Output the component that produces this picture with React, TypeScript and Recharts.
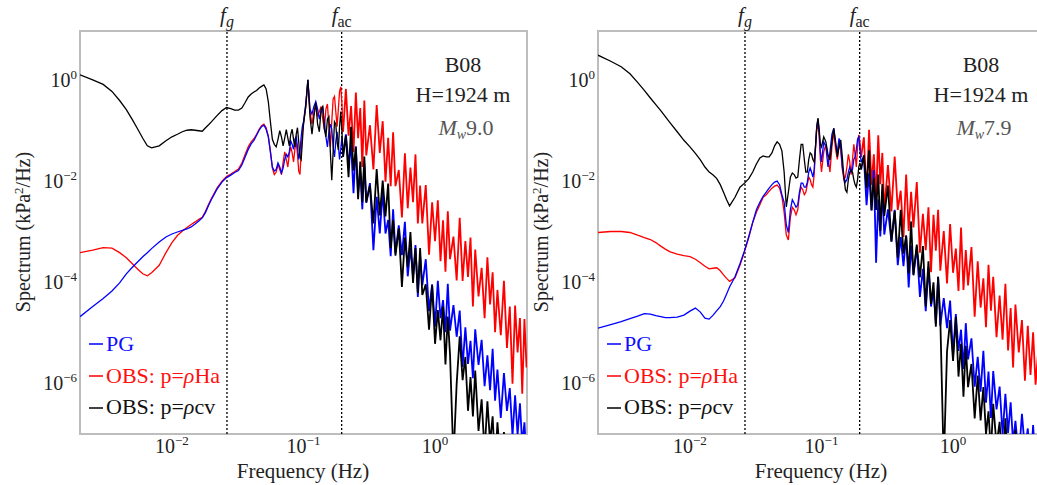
import { LineChart, Line, XAxis, YAxis, ReferenceLine, ReferenceArea } from "recharts";

const SERIF = "'Liberation Serif', 'Times New Roman', serif";

// frequency grid (Hz), shared by both panels
const FREQ = [
  0.002, 0.0025, 0.003, 0.0035, 0.004, 0.0045, 0.005, 0.0055, 0.006, 0.0065,
  0.007, 0.008, 0.009, 0.01, 0.011, 0.012, 0.013, 0.014, 0.015, 0.016,
  0.017, 0.018, 0.019, 0.02, 0.022, 0.024, 0.026, 0.028, 0.03, 0.032,
  0.034, 0.036, 0.038, 0.04, 0.042, 0.044, 0.046, 0.048, 0.05,
  0.052, 0.054, 0.056, 0.058, 0.06, 0.062, 0.064, 0.066, 0.068, 0.07,
  0.072, 0.074, 0.076, 0.078, 0.08, 0.082, 0.084, 0.086, 0.088, 0.09,
  0.092, 0.094, 0.096, 0.098, 0.1,
  0.104, 0.108, 0.112, 0.116, 0.12, 0.124, 0.128, 0.132, 0.136, 0.14,
  0.144, 0.148, 0.152, 0.156, 0.16, 0.164, 0.168, 0.172, 0.176, 0.18,
  0.184, 0.188, 0.192, 0.196, 0.2,
  0.21, 0.22, 0.23, 0.24, 0.25, 0.26, 0.27, 0.28, 0.29, 0.3,
  0.32, 0.34, 0.36, 0.38, 0.4, 0.42, 0.44, 0.46, 0.48, 0.5,
  0.53, 0.56, 0.59, 0.62, 0.65, 0.68, 0.71, 0.74, 0.77, 0.8,
  0.85, 0.9, 0.95, 1.0, 1.05, 1.1, 1.15, 1.2, 1.25, 1.3,
  1.38, 1.46, 1.54, 1.62, 1.7, 1.78, 1.86, 1.94, 2.02,
  2.14, 2.26, 2.38, 2.5, 2.62, 2.74, 2.86, 2.98,
  3.16, 3.34, 3.52, 3.7, 3.88, 4.06, 4.24, 4.42, 4.6, 4.78, 4.96,
];

// log10 of spectrum (kPa^2/Hz) — Mw 9.0 panel
const LEFT_PG = [
  -4.67, -4.47, -4.31, -4.16, -4.0, -3.82, -3.69, -3.58, -3.48, -3.4,
  -3.32, -3.19, -3.09, -3.03, -2.99, -2.96, -2.93, -2.89, -2.83, -2.77,
  -2.71, -2.6, -2.46, -2.34, -2.14, -2.0, -1.91, -1.86, -1.81, -1.77,
  -1.66, -1.5, -1.35, -1.24, -1.17, -1.07, -0.97, -0.9, -0.87,
  -0.95, -1.1, -1.4, -1.7, -1.78, -1.75, -1.62, -1.7, -1.82, -1.72,
  -1.55, -1.45, -1.5, -1.4, -1.18, -1.25, -1.35, -1.15, -1.1, -1.3,
  -1.55, -1.4, -1.1, -0.9, -0.8,
  -0.45, 0.03, -0.55, -0.65, -0.5, -0.4, -0.55, -0.75, -0.6, -0.5,
  -0.8, -1.1, -1.3, -1.0, -0.85, -0.95, -1.3, -1.5, -1.2, -1.0,
  -1.25, -1.55, -1.35, -1.1, -1.45,
  -1.05, -1.63, -1.26, -2.22, -1.29, -2.2, -1.79, -2.54, -1.63, -2.41,
  -2.02, -3.35, -2.29, -3.02, -2.19, -3.02, -2.75, -3.47, -2.54, -3.41,
  -2.86, -3.45, -2.79, -3.87, -3.3, -3.88, -3.25, -4.28, -3.46, -4.05,
  -3.53, -4.56, -4.03, -4.87, -3.96, -4.7, -4.34, -4.98, -4.02, -4.95,
  -4.44, -5.07, -4.55, -5.67, -4.88, -5.61, -5.15, -5.89, -4.92, -5.63,
  -5.13, -6.05, -5.44, -6.13, -5.31, -6.34, -5.72, -6.68, -5.79, -6.54,
  -6.09, -7.04, -6.23, -7.02, -6.39, -7.21, -6.77, -7.49,
];

const LEFT_HA = [
  -3.4, -3.35, -3.3, -3.31, -3.4, -3.5, -3.62, -3.73, -3.82, -3.86,
  -3.8, -3.65, -3.4, -3.2, -3.06, -2.97, -2.9, -2.84, -2.79, -2.74,
  -2.7, -2.58, -2.44, -2.32, -2.12, -1.98, -1.89, -1.84, -1.79, -1.74,
  -1.62, -1.45, -1.3, -1.2, -1.14, -1.05, -0.95, -0.88, -0.85,
  -0.92, -1.08, -1.38, -1.72, -1.85, -1.8, -1.65, -1.75, -1.85, -1.6,
  -1.4, -1.55, -1.7, -1.45, -1.3, -1.42, -1.6, -1.35, -1.2, -1.45,
  -1.78, -1.85, -1.4, -1.0, -0.85,
  -0.5, 0.02, -0.6, -0.85, -0.6, -0.45, -0.7, -0.6, -0.5, -0.75,
  -0.95, -0.55, -0.45, -0.9, -1.3, -0.8, -0.35, -0.3, -0.6, -0.9,
  -0.55, -0.2, -0.11, -0.45, -1.0,
  -0.15, -1.08, -0.49, -1.4, -0.22, -1.13, -0.53, -1.7, -0.38, -1.47,
  -0.87, -1.75, -0.47, -1.42, -0.79, -1.99, -1.12, -2.08, -1.01, -2.08,
  -1.76, -2.7, -1.43, -2.52, -1.71, -2.4, -1.45, -2.82, -2.07, -2.82,
  -2.06, -3.44, -2.4, -3.17, -2.36, -3.57, -2.76, -3.78, -2.58, -3.53,
  -3.08, -3.95, -2.71, -3.96, -3.17, -3.88, -3.1, -4.47, -3.34, -4.27,
  -3.7, -4.7, -3.49, -4.43, -3.79, -4.98, -4.14, -5.04, -3.96, -5.29,
  -4.47, -6.0, -4.45, -5.38, -4.7, -6.2, -4.72, -5.68,
];

const LEFT_CV = [
  0.13, 0.03, -0.06, -0.2, -0.38, -0.56, -0.76, -0.95, -1.13, -1.28,
  -1.32, -1.28, -1.18, -1.1, -1.05, -1.0, -0.97, -0.96, -0.97, -0.98,
  -0.99, -0.92, -0.86, -0.8, -0.68, -0.58, -0.52, -0.54, -0.57, -0.57,
  -0.53, -0.42, -0.31, -0.25, -0.21, -0.18, -0.13, -0.1, -0.07,
  -0.15, -0.4, -0.8, -1.15, -1.25, -1.3, -1.15, -0.98, -1.1, -1.28,
  -1.12, -0.96, -1.12, -1.28, -1.05, -0.95, -1.15, -1.3, -1.05, -0.92,
  -1.2, -1.5, -1.55, -1.2, -0.85,
  -0.5, 0.03, -0.7, -1.05, -0.7, -0.42, -0.85, -1.0, -0.55, -0.5,
  -0.95, -1.1, -0.75, -0.7, -1.4, -1.96, -1.4, -0.8, -0.85, -1.2,
  -1.36, -0.9, -0.6, -1.0, -1.5,
  -1.08, -1.9, -0.9, -1.77, -1.31, -2.34, -1.59, -2.4, -1.49, -2.4,
  -2.07, -2.82, -1.74, -2.66, -1.97, -2.68, -2.03, -3.31, -2.76, -3.46,
  -2.92, -4.08, -3.1, -3.69, -2.99, -4.0, -3.31, -4.2, -3.31, -4.24,
  -4.03, -4.93, -4.05, -5.21, -4.54, -5.14, -4.47, -5.62, -4.67, -5.43,
  -7.5, -6.0, -5.06, -5.93, -5.47, -6.54, -5.87, -6.65, -5.74, -6.94,
  -6.31, -7.37, -6.35, -7.17, -6.65, -7.67, -6.77, -7.65, -6.96, -7.87,
  -7.38, -8.18, -7.19, -7.98, -7.49, -8.49, -7.39, -8.32,
];

// log10 of spectrum — Mw 7.9 panel
const RIGHT_PG = [
  -4.9, -4.83, -4.77, -4.71, -4.66, -4.61, -4.62, -4.65, -4.67, -4.69,
  -4.69, -4.68, -4.64, -4.56, -4.5, -4.58, -4.7, -4.72, -4.64, -4.55,
  -4.47, -4.36, -4.22, -4.08, -3.88, -3.62, -3.36, -3.08, -2.8, -2.55,
  -2.4, -2.28, -2.2, -2.12, -2.05, -2.0, -1.98, -2.05, -2.25,
  -2.4, -2.85, -3.0, -2.55, -2.35, -2.42, -2.5, -2.45, -2.2, -2.02,
  -2.02, -2.1, -2.1, -2.0, -1.8, -1.72, -1.8, -1.9, -1.75, -1.3,
  -0.9, -0.75, -1.0, -1.4, -1.6,
  -1.2, -1.3, -1.7, -1.4, -1.05, -0.93, -1.25, -1.4, -1.13, -1.3,
  -1.7, -1.9, -2.0, -1.95, -1.8, -1.7, -1.8, -1.75, -1.55, -1.5,
  -1.35, -1.15, -1.1, -1.35, -1.6,
  -1.5, -2.46, -1.82, -2.56, -1.76, -3.6, -2.34, -3.08, -2.16, -3.04,
  -2.54, -3.18, -2.55, -3.65, -3.09, -3.67, -3.06, -4.09, -3.26, -3.83,
  -3.28, -4.28, -3.72, -4.56, -3.69, -4.47, -4.14, -4.81, -3.88, -4.85,
  -4.3, -4.9, -4.35, -5.44, -4.62, -5.35, -4.93, -5.71, -4.8, -5.52,
  -5.1, -6.06, -5.47, -6.16, -5.35, -6.38, -5.76, -6.68, -5.75, -6.51,
  -6.06, -7.01, -6.2, -6.98, -6.37, -7.18, -6.74, -7.47, -6.6, -7.32,
  -6.89, -7.81, -6.82, -7.68, -7.23, -7.94, -6.99, -7.74,
];

const RIGHT_HA = [
  -3.0, -2.98, -2.98, -3.0, -3.05, -3.1, -3.14, -3.2, -3.27, -3.33,
  -3.38, -3.43, -3.46, -3.48, -3.53, -3.6, -3.67, -3.72, -3.71, -3.7,
  -3.76, -3.84, -3.91, -3.97, -3.9, -3.65, -3.38, -3.1, -2.8, -2.6,
  -2.45, -2.3, -2.25, -2.18, -2.12, -2.08, -2.06, -2.12, -2.29,
  -2.6, -3.05, -3.15, -2.7, -2.5, -2.55, -2.65, -2.55, -2.25, -2.1,
  -2.15, -2.25, -2.2, -2.05, -1.9, -1.95, -2.05, -2.1, -1.85, -1.35,
  -0.95, -0.85, -1.1, -1.55, -1.8,
  -1.4, -1.25, -1.5, -1.8, -1.3, -1.0, -1.35, -1.55, -1.25, -1.35,
  -1.75, -1.95, -1.9, -1.7, -1.45, -1.6, -1.85, -1.55, -1.25, -1.45,
  -1.7, -1.3, -1.06, -1.2, -1.5,
  -1.11, -2.27, -0.96, -2.05, -1.45, -2.34, -1.07, -2.04, -1.42, -2.57,
  -1.66, -2.58, -1.49, -2.55, -2.17, -3.09, -1.85, -2.97, -2.19, -2.9,
  -2.0, -3.4, -2.63, -3.35, -2.5, -3.79, -2.65, -3.36, -2.55, -3.76,
  -2.97, -4.01, -2.83, -3.8, -3.32, -4.16, -2.9, -4.14, -3.35, -4.05,
  -3.29, -4.67, -3.57, -4.49, -3.91, -4.88, -3.64, -4.55, -3.88, -5.08,
  -4.25, -5.13, -4.02, -5.34, -4.5, -5.68, -4.43, -5.38, -4.74, -5.94,
  -4.85, -5.83, -4.98, -6.02, -5.42, -6.33, -5.14, -6.05,
];

const RIGHT_CV = [
  0.52, 0.4, 0.29, 0.15, -0.02, -0.18, -0.33, -0.46, -0.58, -0.7,
  -0.81, -1.0, -1.17, -1.3, -1.43, -1.56, -1.7, -1.8, -1.86, -1.93,
  -2.05, -2.2, -2.35, -2.47, -2.3, -2.1, -2.02, -1.93, -1.8, -1.64,
  -1.52, -1.48, -1.5, -1.5, -1.42, -1.28, -1.2, -1.25, -1.38,
  -1.8, -2.49, -2.2, -1.9, -1.82, -1.85, -1.92, -1.9, -1.55, -1.25,
  -1.25, -1.55, -1.8, -1.8, -1.55, -1.42, -1.45, -1.55, -1.6, -1.3,
  -0.9, -0.73, -0.95, -1.25, -1.3,
  -1.1, -1.2, -1.45, -1.56, -1.2, -0.93, -1.2, -1.5, -1.3, -1.16,
  -1.5, -1.9, -2.15, -2.2, -1.95, -1.8, -1.76, -1.8, -1.95, -2.05,
  -2.1, -1.95, -1.7, -1.62, -1.75,
  -1.47, -2.11, -1.37, -2.56, -1.92, -2.55, -1.85, -2.97, -2.04, -2.67,
  -2.07, -3.18, -2.57, -3.5, -2.55, -3.42, -3.06, -3.81, -2.78, -3.85,
  -3.24, -3.89, -3.27, -4.47, -3.57, -4.42, -3.99, -4.87, -3.88, -4.71,
  -7.6, -5.36, -4.74, -5.55, -4.68, -5.86, -5.21, -6.26, -5.25, -6.07,
  -5.61, -6.69, -5.84, -6.73, -6.07, -7.0, -6.55, -7.37, -6.4, -7.22,
  -6.76, -7.78, -6.69, -7.65, -7.17, -7.96, -6.92, -7.79, -7.3, -8.31,
  -7.54, -8.32, -7.39, -8.27, -7.93, -8.7, -7.64, -8.58,
];

const X_TICKS = [0.01, 0.1, 1];
const Y_TICKS = [1e-6, 1e-4, 1e-2, 1];
const F_G = 0.0262;
const F_AC = 0.195;
// above this frequency the spectra are noisy and drawn with a heavier stroke
const NOISY_FROM = 0.2;

// drawing order: red, blue, black on top
const SERIES = [
  { key: "ha", color: "#ff0000" },
  { key: "pg", color: "#0000ff" },
  { key: "cv", color: "#000000" },
];

const LEGEND = [
  { name: "PG", color: "#1010ff" },
  { name: "OBS: p=", rho: "Ha", color: "#ff1010" },
  { name: "OBS: p=", rho: "cv", color: "#111111" },
];

function toRows(pg: number[], ha: number[], cv: number[]) {
  return FREQ.map((f, i) => ({ f, pg: 10 ** pg[i], ha: 10 ** ha[i], cv: 10 ** cv[i] }));
}

const LEFT_ROWS = toRows(LEFT_PG, LEFT_HA, LEFT_CV);
const RIGHT_ROWS = toRows(RIGHT_PG, RIGHT_HA, RIGHT_CV);

function expText(v: number) {
  const e = Math.round(Math.log10(v));
  return e < 0 ? "\u2212" + Math.abs(e) : String(e);
}

function XTick(props: any) {
  const { x, y, payload } = props;
  return (
    <text x={x} y={y + 16} textAnchor="middle" fontFamily={SERIF} fontSize={20} fill="#222">
      10<tspan dy={-8} fontSize={13}>{expText(payload.value)}</tspan>
    </text>
  );
}

function YTick(props: any) {
  const { x, y, payload } = props;
  return (
    <text x={x} y={y + 6} textAnchor="end" fontFamily={SERIF} fontSize={20} fill="#222">
      10<tspan dy={-8} fontSize={13}>{expText(payload.value)}</tspan>
    </text>
  );
}

function FLabel(props: any) {
  const vb = props.viewBox || {};
  return (
    <text x={vb.x} y={(vb.y || 0) - 9} textAnchor="middle" fontFamily={SERIF} fontSize={21} fill="#222">
      <tspan fontStyle="italic">f</tspan>
      <tspan dy={5} fontSize={16} fontStyle={props.sub === "g" ? "italic" : "normal"}>
        {props.sub}
      </tspan>
    </text>
  );
}

function Panel({ left, rows }: { left: number; rows: any[] }) {
  return (
    <div style={{ position: "absolute", left, top: 0 }}>
      <LineChart width={530} height={485} data={rows} margin={{ top: 31, right: 3, bottom: 0, left: 0 }}>
        <XAxis
          dataKey="f"
          type="number"
          scale="log"
          domain={[0.002, 5]}
          allowDataOverflow
          ticks={X_TICKS}
          tick={<XTick />}
          tickLine={false}
          axisLine={false}
          tickSize={3}
          tickMargin={0}
          height={51}
        />
        <YAxis
          type="number"
          scale="log"
          domain={[1e-7, 10]}
          allowDataOverflow
          ticks={Y_TICKS}
          tick={<YTick />}
          tickLine={false}
          axisLine={false}
          tickSize={3}
          tickMargin={0}
          width={80}
        />
        <ReferenceArea x1={0.002} x2={5} y1={1e-7} y2={10} fill="none" fillOpacity={0} stroke="#bdbdbd" strokeWidth={2} />
        <ReferenceLine x={F_G} stroke="#000" strokeWidth={1.3} strokeDasharray="2 2" label={<FLabel sub="g" />} />
        <ReferenceLine x={F_AC} stroke="#000" strokeWidth={1.3} strokeDasharray="2 2" label={<FLabel sub="ac" />} />
        {SERIES.flatMap((s) => [
          <Line
            key={s.key + "-smooth"}
            dataKey={(r: any) => (r.f <= NOISY_FROM ? r[s.key] : null)}
            type="linear"
            stroke={s.color}
            strokeWidth={1.3}
            dot={false}
            isAnimationActive={false}
          />,
          <Line
            key={s.key + "-noisy"}
            dataKey={(r: any) => (r.f >= NOISY_FROM ? r[s.key] : null)}
            type="linear"
            stroke={s.color}
            strokeWidth={1.8}
            dot={false}
            isAnimationActive={false}
          />,
        ])}
      </LineChart>
    </div>
  );
}

function Notes({ dx, mw }: { dx: number; mw: string }) {
  return (
    <g fontFamily={SERIF} fill="#222">
      <text x={303 + dx} y={478} textAnchor="middle" fontSize={21}>Frequency (Hz)</text>
      <text transform={`translate(${30 + dx},232) rotate(-90)`} textAnchor="middle" fontSize={20}>
        Spectrum (kPa<tspan dy={-7} fontSize={13}>2</tspan>
        <tspan dy={7}>/Hz)</tspan>
      </text>
      <text x={463 + dx} y={72} textAnchor="middle" fontSize={22}>B08</text>
      <text x={463 + dx} y={102} textAnchor="middle" fontSize={22}>H=1924 m</text>
      <text x={466 + dx} y={135} textAnchor="middle" fontSize={22} fill="#555">
        <tspan fontStyle="italic">M</tspan>
        <tspan dy={4} fontSize={14} fontStyle="italic">w</tspan>
        <tspan dy={-4}>{mw}</tspan>
      </text>
      {LEGEND.map((l, i) => (
        <g key={i}>
          <line x1={89 + dx} x2={103 + dx} y1={344 + i * 32} y2={344 + i * 32} stroke={l.color} strokeWidth={1.6} />
          <text x={106 + dx} y={351 + i * 31.5} fontSize={22} fill={l.color}>
            {l.name}
            {l.rho && <tspan fontStyle="italic">ρ</tspan>}
            {l.rho && <tspan>{l.rho}</tspan>}
          </text>
        </g>
      ))}
    </g>
  );
}

export default function App() {
  return (
    <div
      style={{
        position: "absolute",
        left: 0,
        top: 0,
        width: 1037,
        height: 485,
        overflow: "hidden",
        background: "#fff",
      }}
    >
      <Panel left={0} rows={LEFT_ROWS} />
      <Panel left={518} rows={RIGHT_ROWS} />
      <svg width={1037} height={485} style={{ position: "absolute", left: 0, top: 0, pointerEvents: "none" }}>
        <Notes dx={0} mw="9.0" />
        <Notes dx={518} mw="7.9" />
      </svg>
    </div>
  );
}
